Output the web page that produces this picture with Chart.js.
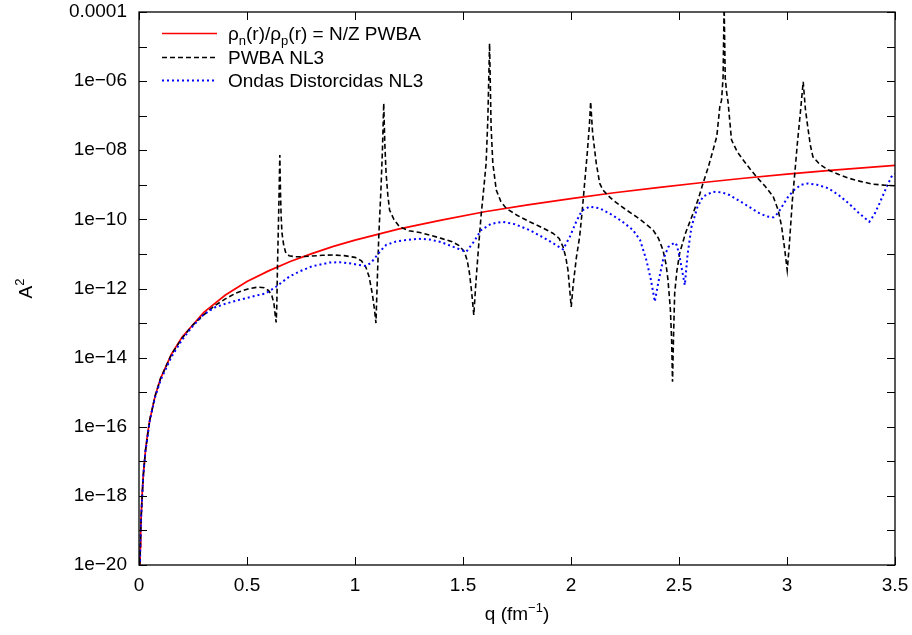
<!DOCTYPE html>
<html>
<head>
<meta charset="utf-8">
<script src="https://cdn.jsdelivr.net/npm/chart.js@4/dist/chart.umd.min.js"></script>
<style>
  body { margin: 0; background: #fff; }
  #wrap { width: 912px; height: 635px; position: relative; }
</style>
</head>
<body>
<div id="wrap"><canvas id="chart"></canvas></div>
<script>
// values; y stored as log10(A^2)
var qPlane = [0.004, 0.006, 0.008, 0.01, 0.015, 0.02, 0.03, 0.04, 0.05, 0.075, 0.1, 0.15, 0.2, 0.3, 0.4, 0.5, 0.6, 0.7, 0.8, 0.9, 1.0, 1.2, 1.4, 1.6, 1.8, 2.0, 2.2, 2.4, 2.6, 2.8, 3.0, 3.2, 3.5];
var logPlane = [-20.19, -19.49, -18.99, -18.60, -17.90, -17.40, -16.69, -16.19, -15.80, -15.10, -14.60, -13.90, -13.40, -12.69, -12.19, -11.80, -11.49, -11.22, -10.99, -10.78, -10.60, -10.28, -10.02, -9.78, -9.58, -9.40, -9.23, -9.08, -8.94, -8.81, -8.69, -8.58, -8.44];

var qNL3 = [0.004, 0.006, 0.01, 0.02, 0.03, 0.05, 0.075, 0.1, 0.15, 0.2, 0.25, 0.3, 0.35, 0.4, 0.45, 0.5, 0.55, 0.58, 0.6, 0.615, 0.625, 0.632, 0.635, 0.638, 0.641, 0.645, 0.649, 0.652, 0.655, 0.658, 0.662, 0.67, 0.68, 0.695, 0.72, 0.75, 0.8, 0.85, 0.9, 0.95, 1.0, 1.03, 1.05, 1.065, 1.08, 1.09, 1.097, 1.103, 1.11, 1.12, 1.127, 1.133, 1.138, 1.144, 1.152, 1.16, 1.18, 1.205, 1.25, 1.3, 1.35, 1.4, 1.45, 1.48, 1.507, 1.52, 1.53, 1.54, 1.55, 1.56, 1.572, 1.584, 1.597, 1.607, 1.615, 1.623, 1.63, 1.638, 1.654, 1.675, 1.7, 1.75, 1.808, 1.86, 1.916, 1.945, 1.963, 1.976, 1.986, 1.995, 2.001, 2.01, 2.025, 2.04, 2.052, 2.063, 2.075, 2.085, 2.091, 2.1, 2.117, 2.133, 2.148, 2.17, 2.194, 2.25, 2.302, 2.34, 2.38, 2.405, 2.426, 2.44, 2.449, 2.46, 2.466, 2.47, 2.475, 2.48, 2.49, 2.503, 2.53, 2.565, 2.59, 2.611, 2.635, 2.658, 2.675, 2.689, 2.697, 2.704, 2.709, 2.714, 2.72, 2.727, 2.743, 2.77, 2.797, 2.83, 2.859, 2.9, 2.936, 2.959, 2.975, 2.99, 3.001, 3.01, 3.025, 3.037, 3.048, 3.062, 3.075, 3.085, 3.096, 3.108, 3.12, 3.15, 3.191, 3.24, 3.286, 3.34, 3.396, 3.45, 3.5];
var logNL3 = [-20.19, -19.49, -18.60, -17.40, -16.69, -15.80, -15.10, -14.60, -13.91, -13.43, -13.05, -12.76, -12.50, -12.30, -12.13, -12.02, -11.96, -11.98, -12.06, -12.20, -12.45, -12.85, -12.98, -12.50, -11.40, -10.30, -9.10, -8.14, -9.20, -9.90, -10.40, -10.75, -10.98, -11.05, -11.08, -11.08, -11.06, -11.04, -11.03, -11.05, -11.10, -11.20, -11.38, -11.65, -12.15, -12.60, -13.00, -11.80, -10.50, -9.15, -8.00, -6.64, -7.80, -8.67, -9.30, -9.73, -10.00, -10.21, -10.33, -10.38, -10.46, -10.55, -10.65, -10.75, -10.94, -11.20, -11.56, -12.10, -12.77, -11.80, -10.80, -9.87, -9.05, -8.38, -7.10, -4.91, -7.30, -8.38, -9.15, -9.48, -9.68, -9.88, -10.07, -10.22, -10.40, -10.55, -10.79, -11.10, -11.47, -12.10, -12.53, -11.90, -11.10, -10.50, -9.75, -8.96, -8.10, -7.30, -6.60, -7.50, -8.38, -8.96, -9.15, -9.30, -9.44, -9.70, -9.92, -10.10, -10.31, -10.55, -10.89, -11.30, -11.75, -12.60, -13.50, -14.70, -13.30, -12.14, -11.50, -10.98, -10.40, -9.83, -9.40, -8.96, -8.50, -7.99, -7.60, -6.74, -6.55, -5.90, -3.80, -5.90, -6.30, -6.60, -7.70, -8.05, -8.28, -8.55, -8.77, -9.05, -9.34, -9.73, -10.20, -10.90, -11.47, -10.80, -9.44, -8.60, -7.80, -6.90, -6.02, -6.80, -7.32, -7.85, -8.19, -8.40, -8.57, -8.70, -8.81, -8.90, -8.98, -9.01, -9.03];

var qDist = [0.004, 0.006, 0.01, 0.02, 0.03, 0.05, 0.075, 0.1, 0.15, 0.2, 0.25, 0.3, 0.35, 0.4, 0.464, 0.52, 0.587, 0.634, 0.695, 0.742, 0.8, 0.881, 0.93, 0.974, 1.02, 1.051, 1.075, 1.097, 1.12, 1.144, 1.19, 1.236, 1.29, 1.344, 1.4, 1.453, 1.49, 1.515, 1.55, 1.584, 1.63, 1.684, 1.74, 1.808, 1.87, 1.92, 1.963, 1.995, 2.024, 2.05, 2.086, 2.133, 2.179, 2.235, 2.287, 2.32, 2.349, 2.37, 2.388, 2.405, 2.426, 2.45, 2.48, 2.49, 2.503, 2.515, 2.527, 2.54, 2.558, 2.585, 2.611, 2.658, 2.7, 2.735, 2.797, 2.874, 2.91, 2.938, 2.958, 2.977, 3.005, 3.033, 3.065, 3.096, 3.14, 3.191, 3.24, 3.286, 3.33, 3.381, 3.405, 3.428, 3.455, 3.483, 3.5];
var logDist = [-20.19, -19.49, -18.60, -17.40, -16.70, -15.82, -15.13, -14.65, -13.98, -13.48, -13.08, -12.75, -12.55, -12.44, -12.33, -12.24, -12.14, -11.95, -11.66, -11.51, -11.36, -11.25, -11.24, -11.27, -11.32, -11.35, -11.25, -11.08, -10.90, -10.74, -10.64, -10.60, -10.56, -10.58, -10.66, -10.79, -10.88, -10.94, -10.65, -10.31, -10.13, -10.07, -10.14, -10.31, -10.52, -10.70, -10.87, -10.50, -10.07, -9.75, -9.63, -9.68, -9.83, -10.05, -10.31, -10.60, -11.18, -11.75, -12.38, -11.80, -11.18, -10.80, -10.67, -10.75, -11.08, -11.50, -11.90, -11.00, -10.21, -9.65, -9.34, -9.20, -9.22, -9.30, -9.53, -9.83, -9.92, -9.94, -9.82, -9.63, -9.35, -9.15, -9.00, -8.96, -9.00, -9.10, -9.30, -9.54, -9.80, -10.07, -9.85, -9.54, -9.15, -8.77, -8.68];

var xTicks = [0, 0.5, 1, 1.5, 2, 2.5, 3, 3.5];
var yTickExp = [-20, -19, -18, -17, -16, -15, -14, -13, -12, -11, -10, -9, -8, -7, -6, -5, -4];

var FONT = '"Liberation Sans", Arial, Helvetica, sans-serif';

function pts(qs, logs) {
  return qs.map(function(q, i) { return { x: q, y: Math.pow(10, logs[i]) }; });
}

function yLabel(v) {
  var e = Math.round(Math.log10(v));
  if (e % 2 !== 0) return '';
  if (e === -4) return '0.0001';
  var n = -e;
  return '1e\u2212' + (n < 10 ? '0' + n : '' + n);
}

// draws a run of [text, mode] pieces; mode 0 normal, 1 subscript, 2 superscript
function richText(ctx, parts, x, y, size, align) {
  var small = Math.round(size * 0.7);
  var widths = parts.map(function(p) {
    ctx.font = (p[1] ? small : size) + 'px ' + FONT;
    return ctx.measureText(p[0]).width;
  });
  var total = widths.reduce(function(a, b) { return a + b; }, 0);
  var cx = align === 'center' ? x - total / 2 : x;
  ctx.textAlign = 'left';
  ctx.textBaseline = 'alphabetic';
  parts.forEach(function(p, i) {
    ctx.font = (p[1] ? small : size) + 'px ' + FONT;
    var dy = p[1] === 1 ? 5 : (p[1] === 2 ? -8 : 0);
    ctx.fillText(p[0], cx, y + dy);
    cx += widths[i];
  });
}

var decor = {
  id: 'decor',
  afterDatasetsDraw: function(chart) {
    var ctx = chart.ctx, a = chart.chartArea;
    var xs = chart.scales.x, ys = chart.scales.y;
    ctx.save();
    ctx.strokeStyle = '#000';
    ctx.lineWidth = 1.3;
    ctx.strokeRect(a.left, a.top, a.right - a.left, a.bottom - a.top);

    ctx.lineWidth = 1;
    ctx.beginPath();
    xs.ticks.forEach(function(t) {
      var px = Math.round(xs.getPixelForValue(t.value)) + 0.5;
      ctx.moveTo(px, a.bottom); ctx.lineTo(px, a.bottom - 8);
      ctx.moveTo(px, a.top); ctx.lineTo(px, a.top + 8);
    });
    ys.ticks.forEach(function(t) {
      var py = Math.round(ys.getPixelForValue(t.value)) + 0.5;
      ctx.moveTo(a.left, py); ctx.lineTo(a.left + 8, py);
      ctx.moveTo(a.right, py); ctx.lineTo(a.right - 8, py);
    });
    ctx.stroke();

    // key
    ctx.fillStyle = '#000';
    var rows = [
      { y: 33, color: '#ff0000', dash: [], parts: [['\u03c1', 0], ['n', 1], ['(r)/\u03c1', 0], ['p', 1], ['(r) = N/Z PWBA', 0]] },
      { y: 57, color: '#000000', dash: [5, 3], parts: [['PWBA NL3', 0]] },
      { y: 80, color: '#0000ff', dash: [2, 3], parts: [['Ondas Distorcidas NL3', 0]] }
    ];
    rows.forEach(function(r, i) {
      ctx.beginPath();
      ctx.strokeStyle = r.color;
      ctx.lineWidth = i === 2 ? 2 : 1.6;
      ctx.setLineDash(r.dash);
      ctx.moveTo(162, r.y + 0.5); ctx.lineTo(217, r.y + 0.5);
      ctx.stroke();
      ctx.setLineDash([]);
      richText(ctx, r.parts, 228, r.y + 7, 19, 'left');
    });

    // axis titles
    richText(ctx, [['q (fm', 0], ['\u22121', 2], [')', 0]], (a.left + a.right) / 2, 620, 19, 'center');
    ctx.translate(32, (a.top + a.bottom) / 2);
    ctx.rotate(-Math.PI / 2);
    richText(ctx, [['A', 0], ['2', 2]], 0, 0, 19, 'center');
    ctx.restore();
  }
};

var ctx = document.getElementById('chart').getContext('2d');
var chart = new Chart(ctx, {
  type: 'line',
  data: {
    datasets: [{
      label: 'rho_n/rho_p = N/Z PWBA',
      data: pts(qPlane, logPlane),
      borderColor: '#ff0000',
      borderWidth: 1.7,
      order: 3
    }, {
      label: 'PWBA NL3',
      data: pts(qNL3, logNL3),
      borderColor: '#000000',
      borderWidth: 1.6,
      borderDash: [5, 3],
      order: 2
    }, {
      label: 'Ondas Distorcidas NL3',
      data: pts(qDist, logDist),
      borderColor: '#0000ff',
      borderWidth: 2,
      borderDash: [2, 3],
      order: 1
    }]
  },
  options: {
    responsive: true,
    maintainAspectRatio: false,
    animation: false,
    layout: { padding: { top: 12, right: 17, left: 0, bottom: 0 } },
    elements: { point: { radius: 0 }, line: { tension: 0, fill: false } },
    plugins: { legend: { display: false }, tooltip: { enabled: false } },
    scales: {
      x: {
        type: 'linear',
        min: 0,
        max: 3.5,
        afterBuildTicks: function(s) { s.ticks = xTicks.map(function(v) { return { value: v }; }); },
        afterFit: function(s) { s.height = 70; s.paddingLeft = 0; s.paddingRight = 0; },
        grid: { display: false, drawTicks: false },
        border: { display: false },
        ticks: {
          color: '#000',
          padding: 9,
          maxRotation: 0,
          autoSkip: false,
          font: { family: FONT, size: 19 },
          callback: function(v) { return String(v); }
        }
      },
      y: {
        type: 'logarithmic',
        min: 1e-20,
        max: 1e-4,
        afterBuildTicks: function(s) { s.ticks = yTickExp.map(function(e) { return { value: Math.pow(10, e) }; }); },
        afterFit: function(s) { s.width = 139; s.paddingTop = 0; s.paddingBottom = 0; },
        grid: { display: false, drawTicks: false },
        border: { display: false },
        ticks: {
          color: '#000',
          padding: 12,
          autoSkip: false,
          font: { family: FONT, size: 19 },
          callback: function(v) { return yLabel(v); }
        }
      }
    }
  },
  plugins: [decor]
});
</script>
</body>
</html>
